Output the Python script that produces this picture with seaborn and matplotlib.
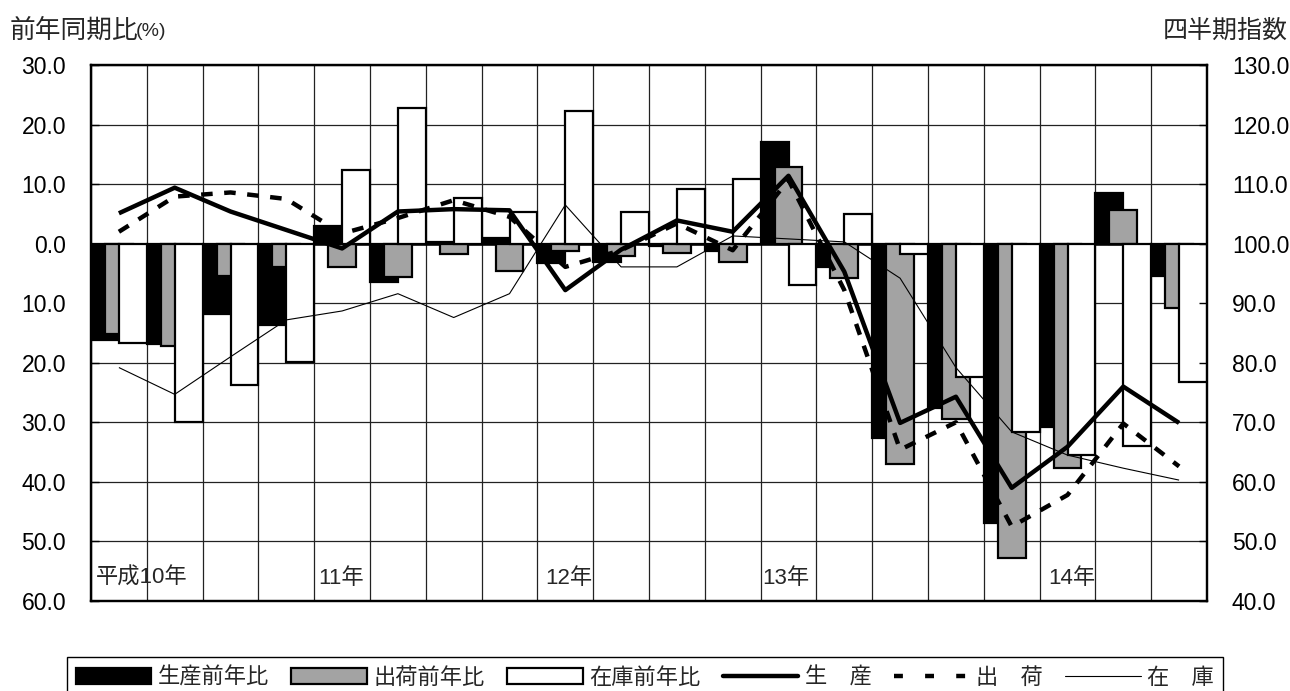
import numpy as np
import pandas as pd
import matplotlib
matplotlib.use("Agg")
import matplotlib.pyplot as plt
import seaborn as sns
from matplotlib.patches import Patch
from matplotlib.lines import Line2D
from matplotlib.ticker import FuncFormatter, MultipleLocator

# ---------------- data ----------------
quarter_no = list(range(20))  # 平成10年1-3月期 ... 14年10-12月期
year_labels = ["平成10年", "11年", "12年", "13年", "14年"]

prod_yoy = [-16.2, -16.9, -11.8, -13.6, 3.0, -6.5, 0.2, 0.9, -3.3, -3.0,
            -0.4, -1.3, 17.0, -3.9, -32.6, -27.6, -46.9, -30.8, 8.5, -5.4]
ship_yoy = [-15.1, -17.2, -5.5, -4.0, -3.9, -5.6, -1.8, -4.6, -1.2, -2.1,
            -1.6, -3.1, 12.9, -5.8, -37.0, -29.5, -52.8, -37.7, 5.6, -10.8]
inv_yoy = [-16.7, -30.0, -23.8, -19.9, 12.4, 22.7, 7.6, 5.4, 22.3, 5.3,
           9.1, 10.8, -6.9, 5.0, -1.8, -22.4, -31.6, -35.5, -34.0, -23.3]

prod_idx = [105.1, 109.4, 105.4, 102.3, 99.2, 105.4, 105.8, 105.6, 92.2, 99.0,
            103.9, 102.0, 111.4, 95.3, 69.9, 74.3, 59.0, 65.9, 76.0, 69.9]
ship_idx = [102.0, 107.9, 108.6, 107.5, 101.7, 104.3, 107.3, 104.5, 96.1, 98.9,
            103.4, 98.9, 110.7, 92.2, 65.4, 70.0, 52.5, 57.8, 69.8, 62.6]
inv_idx = [79.2, 74.7, 81.0, 87.2, 88.7, 91.6, 87.6, 91.6, 106.5, 96.1,
           96.1, 101.3, 100.8, 100.3, 94.2, 79.2, 68.4, 64.5, 62.3, 60.3]

bar_names = ["生産前年比", "出荷前年比", "在庫前年比"]
line_names = ["生　産", "出　荷", "在　庫"]

# ---------------- style ----------------
sns.set_theme(style="white")
plt.rcParams["font.family"] = ["Liberation Sans", "Noto Sans CJK JP"]
plt.rcParams["axes.unicode_minus"] = False

W, H = 1290, 691
fig = plt.figure(figsize=(W / 100, H / 100), dpi=100)
L, R, T, B = 91, 1207, 65, 601
ax = fig.add_axes([L / W, 1 - B / H, (R - L) / W, (B - T) / H])

pos = np.array(quarter_no, dtype=float)
df = pd.DataFrame({"q": pos, "prod": prod_yoy, "ship": ship_yoy, "inv": inv_yoy,
                   "p_idx": prod_idx, "s_idx": ship_idx, "i_idx": inv_idx})

GRAY = "#a3a3a3"
bar_specs = [("prod", -0.25, "black"), ("ship", 0.0, GRAY), ("inv", 0.25, "white")]
for i, (col, off, colr) in enumerate(bar_specs):
    sns.barplot(x=df["q"] + off, y=df[col], native_scale=True, width=0.5,
                color=colr, saturation=1, edgecolor="black", linewidth=1.6,
                errorbar=None, orient="x", ax=ax, zorder=3 + i)

ax.set_xlim(-0.5, 19.5)
ax.set_ylim(-60, 30)
ax.set_xticks(np.arange(-0.5, 20, 1.0))
ax.set_xticklabels([])
ax.yaxis.set_major_locator(MultipleLocator(10))
ax.yaxis.set_major_formatter(FuncFormatter(lambda v, p: f"{abs(v):.1f}"))
ax.grid(True, which="major", axis="both", color="#222222", linewidth=0.9, zorder=0)
ax.set_axisbelow(True)
ax.axhline(0, color="black", linewidth=1.8, zorder=2)
ax.set_xlabel("")
ax.set_ylabel("")
ax.tick_params(axis="x", length=0)
ax.tick_params(axis="y", direction="in", length=6, width=1, pad=18,
               labelsize=16.5, colors="black", left=True)
for s in ax.spines.values():
    s.set_color("black")
    s.set_linewidth(1.6)

# year labels inside the plot area
year_x = [-0.41, 3.57, 7.64, 11.53, 16.65]
for xl, lab in zip(year_x, year_labels):
    ax.text(xl, -56.2, lab, fontsize=16, ha="left", va="center", zorder=10)

# ---------------- index lines on right axis ----------------
ax2 = ax.twinx()
sns.lineplot(x=df["q"], y=df["p_idx"], ax=ax2, color="black", linewidth=3.2)
sns.lineplot(x=df["q"], y=df["s_idx"], ax=ax2, color="black", linewidth=3.2,
             linestyle="--")
ax2.lines[-1].set_dashes([2.6, 2.6])
sns.lineplot(x=df["q"], y=df["i_idx"], ax=ax2, color="black", linewidth=0.8)
for ln in ax2.lines:
    ln.set_solid_capstyle("butt")
    ln.set_dash_capstyle("butt")
ax2.set_ylim(40, 130)
ax2.set_xlim(-0.5, 19.5)
ax2.yaxis.set_major_locator(MultipleLocator(10))
ax2.yaxis.set_major_formatter(FuncFormatter(lambda v, p: f"{v:.1f}"))
ax2.set_ylabel("")
ax2.set_xlabel("")
ax2.grid(False)
ax2.tick_params(axis="y", direction="in", length=6, width=1, pad=18,
                labelsize=16.5, colors="black", right=True)
for s in ax2.spines.values():
    s.set_color("black")
    s.set_linewidth(1.6)

# ---------------- axis titles ----------------
fig.text(10 / W, 1 - 31 / H, "前年同期比", fontsize=18.5, ha="left", va="center",
         family=["Noto Sans CJK JP"])
fig.text(136 / W, 1 - 32 / H, "(%)", fontsize=14, ha="left", va="center")
fig.text(1288 / W, 1 - 31 / H, "四半期指数", fontsize=18, ha="right", va="center",
         family=["Noto Sans CJK JP"])

# ---------------- legend ----------------
handles = [
    Patch(facecolor="black", edgecolor="black", linewidth=1.6),
    Patch(facecolor=GRAY, edgecolor="black", linewidth=1.6),
    Patch(facecolor="white", edgecolor="black", linewidth=1.6),
    Line2D([], [], color="black", linewidth=3.2),
    Line2D([], [], color="black", linewidth=3.2, dashes=[2.0, 5.0]),
    Line2D([], [], color="black", linewidth=0.8),
]
labels = bar_names + line_names
leg = fig.legend(handles, labels, loc="upper center",
                 bbox_to_anchor=(645 / W, 1 - 657 / H), ncol=6, frameon=True,
                 fancybox=False, edgecolor="black", framealpha=1, fontsize=16,
                 handlelength=3.4, handleheight=0.7, handletextpad=0.3,
                 columnspacing=1.0, borderpad=0.4, borderaxespad=0)
leg.get_frame().set_linewidth(1.0)
for t in leg.get_texts():
    t.set_family(["Noto Sans CJK JP"])

fig.savefig("out.png", dpi=100)
